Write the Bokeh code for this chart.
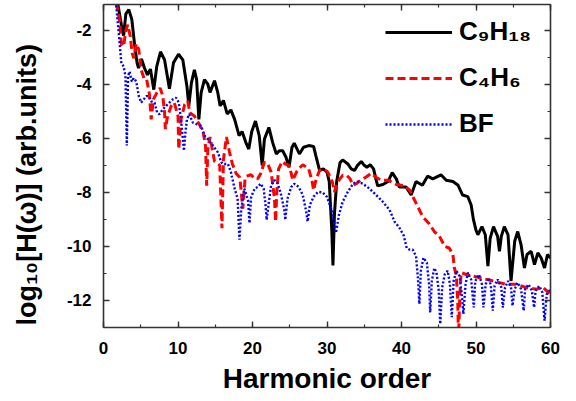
from bokeh.plotting import figure
from bokeh.models import (LinearAxis, SingleIntervalTicker, PrintfTickFormatter,
                          Range1d, Legend, LegendItem)
from bokeh.embed import file_html
from bokeh.resources import INLINE

# ---------------- data ----------------
c9h18_x = [1.9, 2.4, 2.7, 3.0, 3.4, 3.8, 4.2, 4.5, 4.7, 5.1, 5.5, 5.9, 6.3, 6.75, 7.15,
           7.65, 8.2, 8.85, 9.4, 10.07, 10.65, 11.2, 11.45, 11.8, 12.2, 12.5, 12.8, 13.1,
           13.55, 14.0, 14.3, 14.9, 15.35, 15.65, 16.1, 16.6, 17.1, 17.6, 18.2, 18.6, 19.1,
           19.5, 19.9, 20.4, 20.9, 21.3, 21.6, 22.2, 22.7, 23.2, 23.6, 24.05, 24.5, 24.9,
           25.3, 25.6, 26.3, 26.85, 27.55, 28.2, 28.5, 29.0, 29.5, 30.0, 30.3, 30.65, 30.8,
           31.0, 31.3, 31.75, 32.1, 32.8, 33.25, 33.7, 34.1, 34.6, 35.0, 35.35, 35.8, 36.25,
           36.6, 36.8, 37.5, 38.2, 38.75, 39.3, 39.7, 40.6, 41.3, 41.95, 42.8, 43.5, 44.2,
           45.3, 46.0, 46.9, 47.6, 48.2, 48.9, 49.35, 49.65, 50.0, 50.25, 50.8, 51.25, 51.6,
           51.9, 52.35, 52.9, 53.15, 53.4, 53.8, 54.3, 54.7, 55.2, 55.6, 56.05, 56.5, 56.85,
           57.4, 57.85, 58.3, 58.75, 59.2, 59.6, 60.0]
c9h18_y = [-1.0, -1.8, -2.2, -1.4, -1.24, -1.6, -2.6, -3.2, -3.4, -3.07, -3.4, -3.65, -3.44,
           -4.2, -3.34, -2.8, -3.1, -4.17, -3.2, -2.89, -3.1, -4.08, -4.8, -3.95, -3.47,
           -3.83, -5.3, -4.32, -3.83, -4.0, -4.3, -3.87, -4.32, -4.8, -4.6, -5.1, -4.95,
           -5.3, -5.9, -5.75, -6.15, -6.4, -5.75, -5.36, -5.9, -7.0, -6.03, -5.6, -6.15,
           -6.58, -6.46, -6.46, -6.7, -7.07, -6.33, -6.18, -6.58, -6.33, -6.27, -6.3, -6.64,
           -7.19, -7.13, -7.25, -7.6, -9.45, -10.7, -8.8, -7.6, -6.9, -6.8, -6.95, -7.13,
           -7.19, -7.0, -6.86, -7.0, -7.07, -6.98, -7.13, -7.55, -7.76, -7.71, -7.6, -7.27,
           -7.5, -7.8, -7.8, -8.1, -7.6, -7.74, -7.4, -7.5, -7.35, -7.55, -7.6, -7.74, -8.1,
           -8.16, -8.47, -9.0, -9.4, -9.57, -9.27, -9.57, -10.73, -9.7, -9.27, -9.63, -10.18,
           -9.63, -9.27, -9.57, -11.28, -9.8, -9.45, -9.94, -10.8, -10.3, -10.18, -10.67,
           -10.24, -10.43, -10.8, -10.3, -10.43]

c4h6_x = [1.7, 2.15, 2.4, 2.7, 3.0, 3.26, 3.6, 3.85, 4.07, 4.4, 4.74, 5.06, 5.5, 5.8, 6.17,
          6.4, 6.7, 7.15, 7.6, 7.96, 8.2, 8.3, 8.6, 9.1, 9.5, 10.0, 10.1, 10.4, 10.9, 11.3,
          11.6, 12.2, 12.9, 13.4, 13.7, 13.85, 14.0, 14.3, 14.9, 15.6, 15.9, 16.1, 16.5,
          16.9, 17.3, 17.8, 18.3, 18.7, 19.0, 19.2, 19.8, 20.3, 20.7, 21.1, 21.6, 22.05,
          22.5, 22.95, 23.1, 23.26, 23.5, 24.0, 24.4, 24.9, 25.2, 25.4, 25.9, 26.2, 26.75,
          27.55, 28.0, 28.2, 28.55, 29.0, 29.5, 30.1, 30.7, 31.0, 31.45, 32.1, 32.65, 33.1,
          33.5, 33.9, 34.6, 35.25, 35.9, 36.5, 37.3, 38.2, 39.3, 40.4, 41.1, 41.95, 42.85,
          43.75, 44.4, 45.1, 45.8, 46.4, 46.9, 47.1, 47.35, 47.55, 47.65, 47.8, 48.0, 48.7,
          49.6, 50.5, 51.4, 52.3, 53.15, 54.0, 55.4, 56.7, 58.1, 59.0, 60.0]
c4h6_y = [-0.96, -1.63, -2.5, -2.6, -2.0, -1.8, -2.24, -2.85, -3.04, -2.5, -2.73, -3.47,
          -3.83, -3.83, -4.38, -5.3, -4.56, -4.32, -4.14, -4.44, -5.05, -5.66, -5.18, -4.8,
          -4.68, -5.18, -6.4, -5.3, -4.75, -4.62, -5.05, -5.18, -5.5, -5.8, -6.3, -7.75,
          -6.4, -5.95, -6.85, -7.0, -9.33, -6.8, -5.95, -6.5, -6.95, -7.3, -7.45, -8.6, -7.5,
          -7.4, -7.35, -7.5, -7.5, -7.3, -6.88, -6.95, -7.25, -8.23, -9.08, -8.0, -7.13,
          -6.86, -6.95, -7.0, -7.3, -7.55, -7.25, -7.13, -6.98, -7.13, -7.6, -7.92, -7.5,
          -7.19, -7.13, -7.25, -7.6, -7.98, -7.6, -7.37, -7.37, -7.5, -7.74, -7.68, -7.55,
          -7.43, -7.3, -7.43, -7.55, -7.55, -7.71, -7.76, -7.92, -8.4, -8.9, -9.17, -9.45,
          -9.63, -10.0, -10.06, -10.3, -10.8, -11.04, -12.0, -13.5, -12.0, -10.97, -11.04,
          -11.1, -11.16, -11.22, -11.28, -11.34, -11.4, -11.4, -11.52, -11.58, -11.52, -11.77]

bf_x = [1.7, 2.05, 2.24, 2.4, 2.7, 2.95, 3.13, 3.3, 3.5, 3.8, 4.07, 4.4, 4.74, 5.06, 5.4,
        5.73, 6.07, 6.4, 6.85, 7.2, 7.5, 7.96, 8.4, 8.85, 9.3, 9.76, 10.1, 10.4, 10.65, 10.8,
        11.0, 11.2, 11.5, 12.0, 12.5, 13.1, 13.55, 14.0, 14.7, 15.35, 15.8, 16.0, 16.7, 17.1,
        17.6, 18.0, 18.25, 18.5, 18.9, 19.4, 19.6, 19.8, 20.1, 20.3, 20.7, 21.1, 21.5,
        21.75, 21.9, 22.2, 22.5, 22.95, 23.4, 23.85, 24.3, 24.4, 24.7, 25.2, 25.6, 26.2,
        26.75, 27.2, 27.4, 27.7, 28.2, 28.8, 29.4, 29.97, 30.56, 31.0, 31.2, 31.6, 32.1,
        32.8, 33.5, 34.1, 34.8, 35.7, 36.6, 37.5, 38.4, 39.06, 39.7, 40.3, 40.7, 41.1, 41.5,
        41.95, 42.2, 42.4, 42.6, 42.95, 43.4, 43.7, 43.85, 44.07, 44.4, 44.7, 45.0, 45.2,
        45.46, 45.8, 46.2, 46.5, 46.75, 47.0, 47.35, 47.8, 48.15, 48.3, 48.6, 48.9, 49.35,
        49.7, 49.9, 50.4, 50.8, 51.0, 51.3, 51.7, 52.0, 52.25, 52.5, 52.9, 53.4, 53.6, 53.9,
        54.3, 54.7, 54.9, 55.2, 55.6, 56.05, 56.4, 56.6, 57.05, 57.5, 57.8, 58.0, 58.5,
        58.9, 59.2, 59.5, 60.0]
bf_y = [-1.08, -2.12, -2.73, -3.22, -3.34, -3.7, -6.27, -3.7, -3.53, -3.9, -3.77, -3.9,
        -4.44, -4.68, -4.56, -4.44, -4.44, -4.63, -4.68, -5.05, -5.11, -4.93, -4.8, -4.68,
        -4.56, -4.5, -4.68, -5.3, -6.03, -6.46, -5.78, -5.3, -5.11, -5.42, -5.48, -5.54,
        -5.9, -6.03, -6.27, -6.52, -6.88, -6.95, -6.95, -7.25, -7.86, -8.23, -9.75, -8.6,
        -7.86, -8.3, -9.14, -8.2, -7.98, -7.86, -7.8, -7.68, -7.86, -8.47, -9.02, -8.35,
        -7.74, -7.55, -7.68, -8.1, -8.7, -9.02, -8.23, -7.8, -7.68, -7.8, -8.1, -8.7, -9.08,
        -8.47, -8.16, -7.98, -8.0, -8.16, -8.6, -9.2, -9.5, -8.84, -8.35, -7.98, -7.68, -7.6,
        -7.68, -7.86, -8.1, -8.35, -8.65, -9.08, -9.3, -9.6, -10.06, -10.12, -10.12, -10.36,
        -11.16, -12.13, -10.9, -10.42, -10.6, -11.4, -12.44, -11.28, -10.8, -10.97, -11.64,
        -12.87, -11.52, -11.04, -10.9, -11.4, -12.62, -11.28, -10.9, -11.1, -11.95, -12.5,
        -11.4, -10.97, -11.22, -12.26, -11.28, -11.04, -11.4, -12.26, -11.4, -11.16, -11.46,
        -12.38, -11.46, -11.22, -11.52, -12.26, -11.52, -11.28, -11.52, -12.2, -11.58,
        -11.34, -11.58, -12.38, -11.58, -11.4, -11.64, -12.26, -11.64, -11.46, -11.7, -12.75,
        -11.77, -11.58]

series_labels = ["C\u2089H\u2081\u2088", "C\u2084H\u2086", "BF"]
x_title = "Harmonic order"
# trailing no-break spaces shift the centred, rotated title toward the bottom
y_title = "log\u2081\u2080[H(\u03c9)] (arb.units)" + "\u00a0" * 5

FONT = "Liberation Sans"
AXC = "#333333"

p = figure(width=567, height=398, output_backend="svg", toolbar_location=None,
           x_range=Range1d(0, 60), y_range=Range1d(-13, -1.05),
           min_border_left=103, min_border_right=17, min_border_top=4, min_border_bottom=71)
p.xgrid.visible = False
p.ygrid.visible = False
p.outline_line_color = None
p.background_fill_color = "white"

r1 = p.line(c9h18_x, c9h18_y, line_color="black", line_width=3)
r2 = p.line(c4h6_x, c4h6_y, line_color="red", line_width=3, line_dash="8 4")
r3 = p.line(bf_x, bf_y, line_color="blue", line_width=2.4, line_dash="2 2")

def style_axis(ax, show_labels):
    ax.axis_line_color = AXC
    ax.axis_line_width = 1.6
    ax.major_tick_line_color = AXC
    ax.minor_tick_line_color = AXC
    ax.major_tick_line_width = 1.4
    ax.minor_tick_line_width = 1.2
    ax.major_tick_in = 6
    ax.major_tick_out = 0
    ax.minor_tick_in = 3
    ax.minor_tick_out = 0
    if show_labels:
        ax.major_label_text_font = FONT
        ax.major_label_text_font_style = "bold"
        ax.major_label_text_font_size = "17px"
        ax.major_label_text_color = "black"
        ax.axis_label_text_font = FONT
        ax.axis_label_text_font_style = "bold"
        ax.axis_label_text_color = "black"
    else:
        ax.major_label_text_color = None
        ax.major_label_text_font_size = "1px"
        ax.major_label_standoff = 0
        ax.axis_label = None

p.xaxis.ticker = SingleIntervalTicker(interval=10, num_minor_ticks=2)
p.yaxis.ticker = SingleIntervalTicker(interval=2, num_minor_ticks=2)
p.yaxis.formatter = PrintfTickFormatter(format="%d")
style_axis(p.xaxis[0], True)
style_axis(p.yaxis[0], True)
p.xaxis.axis_label = x_title
p.yaxis.axis_label = y_title
p.xaxis.axis_label_text_font_size = "28px"
p.yaxis.axis_label_text_font_size = "27px"
p.xaxis.major_label_standoff = 14
p.yaxis.major_label_standoff = 12
p.xaxis.axis_label_standoff = 6
p.yaxis.axis_label_standoff = 22

top = LinearAxis(ticker=SingleIntervalTicker(interval=10, num_minor_ticks=2))
style_axis(top, False)
p.add_layout(top, "above")
right = LinearAxis(ticker=SingleIntervalTicker(interval=2, num_minor_ticks=2))
style_axis(right, False)
p.add_layout(right, "right")

legend = Legend(items=[LegendItem(label=series_labels[0], renderers=[r1]),
                       LegendItem(label=series_labels[1], renderers=[r2]),
                       LegendItem(label=series_labels[2], renderers=[r3])],
                location=(282, 188), orientation="vertical")
legend.label_text_font = FONT
legend.label_text_font_style = "bold"
legend.label_text_font_size = "26px"
legend.label_text_color = "black"
legend.glyph_width = 67
legend.glyph_height = 30
legend.label_height = 30
legend.label_standoff = 7
legend.spacing = 15
legend.padding = 0
legend.margin = 0
legend.border_line_alpha = 0
legend.background_fill_alpha = 0
p.add_layout(legend)

open("out.html", "w").write(file_html(p, INLINE))
